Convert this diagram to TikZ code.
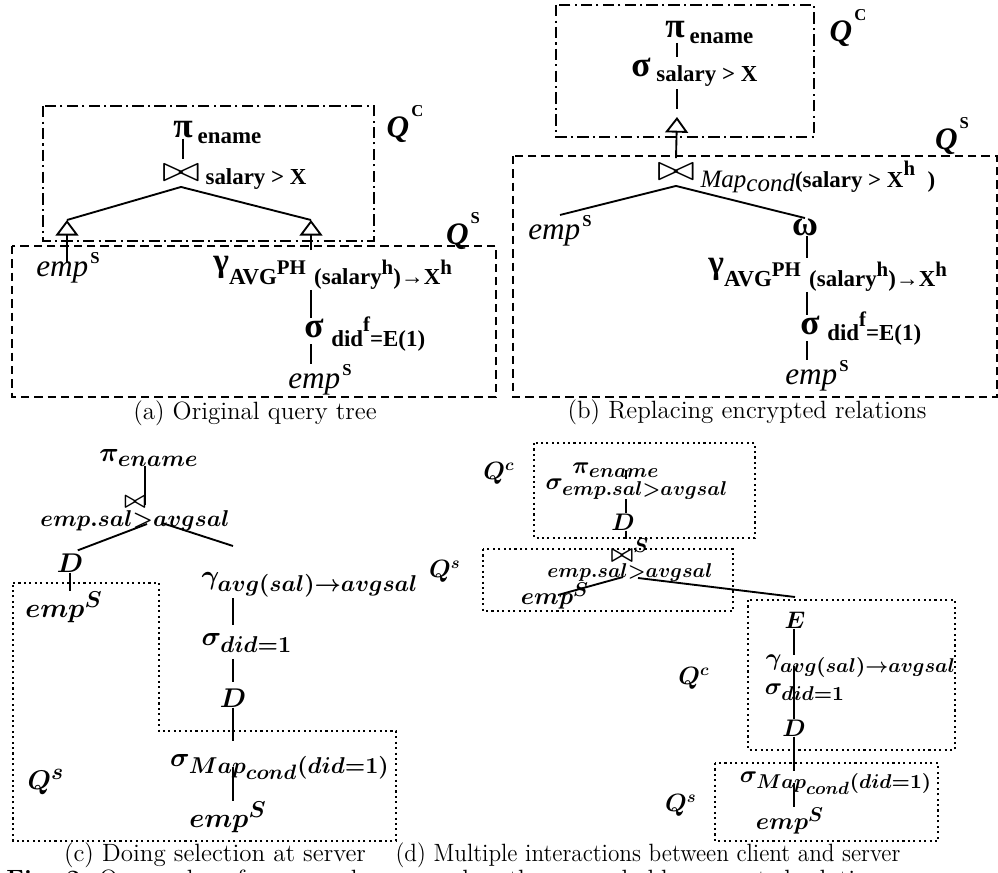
\RequirePackage{fix-cm}
\documentclass[tikz,border=0pt]{standalone}
\usepackage{amsmath}
\usepackage{graphicx}
\usepackage{fontspec}
\newfontfamily\tms{Liberation Serif}
\usepackage{tikz}
\usetikzlibrary{positioning, arrows.meta, calc}

\DeclareMathSizes{13}{13}{11}{10}
\DeclareMathSizes{11.5}{11.5}{9.6}{8.5}
\newcommand{\pts}[1]{\fontsize{#1}{#1}\selectfont}
\newcommand{\bowA}{\resizebox{18pt}{8pt}{$\bowtie$}}
\newcommand{\supS}[1]{\kern1pt\raisebox{6.5pt}{\upshape\bfseries\pts{8}#1}}
\newcommand{\supQ}[1]{\kern1pt\raisebox{10pt}{\upshape\bfseries\pts{8}#1}}
\newcommand{\gamPH}{{\pts{16}γ}{\pts{11}\raisebox{-6pt}{AVG}}{\pts{10}\raisebox{-1pt}{PH}}\hspace{4pt}{\pts{11}\raisebox{-6pt}{(salary}}{\pts{10}\raisebox{-1pt}{h}}{\pts{11}\raisebox{-6pt}{)→X}}{\pts{10}\raisebox{-1pt}{h}}}
\newcommand{\didE}{did\raisebox{7pt}{\pts{10}f}=E(1)}
\newcommand{\mapcond}{{\mdseries\itshape\pts{12}Map\raisebox{-2pt}{cond}}(salary > X\raisebox{6pt}{\pts{10}h}\hspace{6pt})}

\begin{document}
\begin{tikzpicture}[
    x=0.48pt, y=-0.48pt,
    op/.style={inner sep=0pt},
    bow/.style={inner sep=0pt, inner ysep=2.5pt},
    sub/.style={inner sep=0pt, font=\tms\bfseries\pts{11}},
    topop/.style={inner sep=0pt, font=\tms\bfseries\pts{17}},
    relname/.style={inner sep=0pt, font=\tms\itshape\pts{15}},
    qlbl/.style={inner sep=0pt, font=\tms\bfseries\itshape\pts{15}},
    mth/.style={inner sep=0pt, font=\pts{13}\boldmath},
    mthd/.style={inner sep=0pt, font=\pts{11.5}\boldmath},
    captxt/.style={inner sep=0pt, font=\pts{12}},
    link/.style={line width=0.9pt},
    enc/.style={line width=0.9pt, -{Triangle[open, width=11pt, length=7.5pt]}},
    cbox/.style={line width=0.9pt, dash pattern=on 5.5pt off 2pt on 1pt off 2pt},
    sbox/.style={line width=0.9pt, dash pattern=on 4pt off 2.4pt},
    dbox/.style={line width=1pt, dash pattern=on 1pt off 1.6pt}
]
\useasboundingbox (0,0) rectangle (998,873);
\clip (0,0) rectangle (998,873);

% (a) Original query tree
\draw[cbox] (43,106) rectangle (374,241);
\draw[sbox] (12,246) rectangle (496,397);
\coordinate (spA) at (311,0);
\coordinate (brA1) at (67,220);
\coordinate (brA2) at (311,220);
\node[topop, label={[sub, xshift=2pt, yshift=-3.8pt]east:ename}] (piA) at (183,130) {π};
\node[bow, label={[sub, xshift=2.4pt, yshift=-3pt]east:salary > X}] (joinA) at (181,173) {\bowA};
\node[relname] (empA1) at (68,268) {emp\supS{S}};
\node[op, anchor=base west, font=\tms\bfseries] (gA) at (213,272) {\gamPH};
\node[topop, label={[sub, xshift=3.3pt, yshift=-2.8pt]east:\didE}] (sA) at (314,328) {σ};
\node[relname] (empA2) at (320,380) {emp\supS{S}};
\node[qlbl] (qcA) at (405,124) {Q\supQ{C}};
\node[qlbl] (qsA) at (463,231) {Q\supQ{S}};
\node[captxt] (capA) at (255,413) {(a) Original query tree};

\draw[link] (piA.south) -- (piA.south |- joinA.north);
\draw[link] (joinA.south) -- (brA1);
\draw[link] (joinA.south) -- (brA2);
\draw[enc] (empA1.center -| brA1) ++(0,-5) -- (brA1);
\draw[enc, shorten <=3pt] (gA.north -| spA) -- (brA2);
\draw[link] (gA.south -| spA) -- (sA.north -| spA);
\draw[link, shorten <=3pt] (sA.south -| spA) -- (empA2.north -| spA);

% (b) Replacing encrypted relations
\draw[cbox] (556,5) rectangle (814,137);
\draw[sbox] (513,156) rectangle (997,397);
\coordinate (spB) at (677,0);
\coordinate (spB2) at (807,0);
\coordinate (hatB) at (677,117);
\node[topop, label={[sub, xshift=2pt, yshift=-3.8pt]east:ename}] (piB) at (675,30) {π};
\node[topop, label={[sub, xshift=2.4pt, yshift=-4.3pt]east:salary > X}] (sB) at (641,67) {σ};
\node[bow, label={[sub, xshift=2.4pt, yshift=-2.4pt]east:\mapcond}] (joinB) at (676,172) {\bowA};
\node[relname] (empB1) at (560,231) {emp\supS{S}};
\node[topop] (omB) at (805,227) {ω};
\node[op, anchor=base west, font=\tms\bfseries] (gB) at (708,274) {\gamPH};
\node[topop, label={[sub, xshift=3.3pt, yshift=-1.8pt]east:\didE}] (sB2) at (810,325) {σ};
\node[relname] (empB2) at (817,376) {emp\supS{S}};
\node[qlbl] (qcB) at (848,28) {Q\supQ{C}};
\node[qlbl] (qsB) at (952,136) {Q\supQ{S}};
\node[captxt] (capB) at (747,412) {(b) Replacing encrypted relations};

\draw[link, shorten <=2pt] (piB.south -| spB) -- (sB.north -| spB);
\draw[link, shorten <=6pt, shorten >=4pt] (sB.south -| spB) -- (hatB);
\draw[enc] (joinB.north) -- (hatB);
\draw[link] (joinB.south) -- (empB1.north);
\draw[link] (joinB.south) -- (omB.north);
\draw[link] (omB.south -| spB2) -- (gB.north -| spB2);
\draw[link] (gB.south -| spB2) -- (sB2.north -| spB2);
\draw[link, shorten <=3pt] (sB2.south -| spB2) -- (empB2.north -| spB2);

% (c) Doing selection at server
\draw[dbox] (13,583) -| (159,731) -| (396,841) -- (13,841) -- cycle;
\coordinate (spC0) at (145,0);
\coordinate (spC) at (233,0);
\coordinate (brC) at (233,546);
\node[mth] (piC) at (149,458) {$\pi_{ename}$};
\node[mth, font=\pts{11}\boldmath, align=center] (joinC) at (135,514) {$\bowtie$\\[-2pt]$emp.sal{>}avgsal$};
\node[mth] (cD1) at (70,563) {$D$};
\node[mth] (cemp1) at (64,607) {$emp^S$};
\node[mth] (gC) at (310,585) {$\gamma_{avg(sal)\rightarrow avgsal}$};
\node[mth] (sC) at (247,643) {$\sigma_{did=1}$};
\node[mth] (cD2) at (233,698) {$D$};
\node[mth] (smC) at (280,767) {$\sigma_{Map_{cond}(did=1)}$};
\node[mth] (cemp2) at (228,817) {$emp^S$};
\node[mth] (qsC) at (46,782) {$Q^s$};
\node[captxt] (capC) at (215,855) {(c) Doing selection at server};

\draw[link, shorten >=-4pt] (piC.south -| spC0) -- (joinC.north -| spC0);
\draw[link, shorten >=4pt] ($(joinC.center)+(12,10)$) -- (cD1.north);
\draw[link] ($(joinC.center)+(27,9)$) -- (brC);
\draw[link] (cD1.south) -- (cD1.south |- cemp1.north);
\draw[link, shorten >=4pt] (gC.south -| spC) -- (sC.north -| spC);
\draw[link, shorten <=3pt, shorten >=3pt] (sC.south -| spC) -- (cD2.north);
\draw[link, shorten >=6pt] (cD2.south) -- (cD2.south |- smC.north);
\draw[link] (smC.center -| spC) -- (cemp2.north -| spC);

% (d) Multiple interactions between client and server
\draw[dbox] (534,443) rectangle (755,538);
\draw[dbox] (483,549) rectangle (733,611);
\draw[dbox] (748,600) rectangle (955,750);
\draw[dbox] (715,763) rectangle (938,841);
\coordinate (spD) at (626,0);
\coordinate (spE) at (794,0);
\coordinate (brD) at (795,597);
\node[mthd] (piD) at (616,470) {$\pi_{ename}$};
\node[mthd] (sD) at (637,489) {$\sigma_{emp.sal>avgsal}$};
\node[mthd] (dD1) at (623,522) {$D$};
\node[mthd, align=center] (jD) at (630,560) {$\bowtie^S$\\[-4pt]\pts{9.6}$emp.sal{>}avgsal$};
\node[mthd] (eD1) at (555,596) {$emp^S$};
\node[mthd] (encE) at (795,620) {$E$};
\node[mthd] (gD) at (861,666) {$\gamma_{avg(sal)\rightarrow avgsal}$};
\node[mthd] (sD2) at (805,692) {$\sigma_{did=1}$};
\node[mthd] (dD2) at (794,728) {$D$};
\node[mthd] (smD) at (836,783) {$\sigma_{Map_{cond}(did=1)}$};
\node[mthd] (eD2) at (790,821) {$emp^S$};
\node[mth, font=\pts{12}\boldmath] (qcD1) at (499,473) {$Q^c$};
\node[mth, font=\pts{12}\boldmath] (qsD1) at (445,571) {$Q^s$};
\node[mth, font=\pts{12}\boldmath] (qcD2) at (694,678) {$Q^c$};
\node[mth, font=\pts{12}\boldmath] (qsD2) at (681,805) {$Q^s$};
\node[captxt] (capD) at (648,855) {\scalebox{0.93}[1]{(d) Multiple interactions between client and server}};

\draw[link] (piD.center -| spD) -- (sD.north -| spD);
\draw[link] (sD.south -| spD) -- (dD1.north -| spD);
\draw[link] (dD1.south -| spD) -- (jD.north -| spD);
\draw[link] ($(jD.center)+(-7,17)$) -- ($(eD1.center)+(3,-1)$);
\draw[link] ($(jD.center)+(8,18)$) -- (brD);
\draw[link] (encE.south -| spE) -- (gD.north -| spE);
\draw[link] (gD.center -| spE) -- (sD2.center -| spE);
\draw[link] (sD2.center -| spE) -- (dD2.north);
\draw[link] (dD2.south) -- (dD2.south |- smD.north);
\draw[link] (smD.center -| spE) -- (eD2.north -| spE);

% figure caption, cut by the lower edge
\node[captxt, anchor=north west] (figcap) at (6,869) {\textbf{Fig. 2:} Query plans for a sample query when the server holds encrypted relations};

\end{tikzpicture}
\end{document}
